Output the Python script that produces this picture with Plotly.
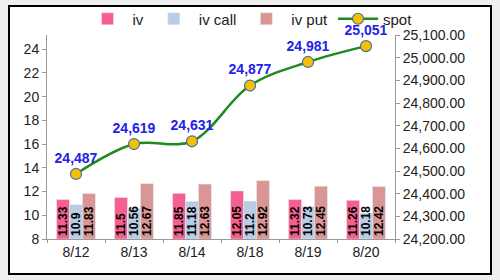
import plotly.graph_objects as go

dates = ["8/12", "8/13", "8/14", "8/18", "8/19", "8/20"]
iv = [11.33, 11.5, 11.85, 12.05, 11.32, 11.26]
iv_call = [10.9, 10.56, 11.18, 11.2, 10.73, 10.18]
iv_put = [11.83, 12.67, 12.63, 12.92, 12.45, 12.42]
spot = [24487, 24619, 24631, 24877, 24981, 25051]

FONT = "Liberation Sans, Arial, sans-serif"
Y_MIN = 8

fig = go.Figure()

def bar(name, vals, color):
    tf = dict(family=FONT, size=12, color="black", weight="bold")
    return go.Bar(
        x=dates, y=[v - Y_MIN for v in vals], base=Y_MIN, name=name, marker_color=color,
        text=[f"{v:g}" for v in vals], textposition="inside",
        insidetextanchor="start", textangle=-90, constraintext="none",
        textfont=tf, insidetextfont=tf,
        cliponaxis=False, yaxis="y",
    )

fig.add_trace(bar("iv", iv, "#f6608f"))
fig.add_trace(bar("iv call", iv_call, "#b9cde5"))
fig.add_trace(bar("iv put", iv_put, "#d99694"))

fig.add_trace(go.Scatter(
    x=dates, y=spot, name="spot", yaxis="y2", mode="lines+markers+text",
    line=dict(color="#1f8a1f", width=2.5, shape="spline"),
    marker=dict(size=11, color="#f5c000", line=dict(color="#4a6fa5", width=1.2)),
    text=[f"{v:,}" for v in spot], textposition="top center",
    textfont=dict(family=FONT, size=14, color="#2323e6", weight="bold"),
    cliponaxis=False,
))

W0, W1 = 47, 395
H0, H1 = 35, 239
def px_x(x):
    return (x - W0) / (W1 - W0)
def px_y(y):
    return (H1 - y) / (H1 - H0)

fig.update_layout(
    width=500, height=280,
    margin=dict(l=W0, r=500 - W1, t=H0, b=280 - H1, autoexpand=False),
    paper_bgcolor="#efefef", plot_bgcolor="rgba(0,0,0,0)",
    barmode="group", bargap=0.33, bargroupgap=0,
    font=dict(family=FONT, size=13, color="#222222"),
    showlegend=True,
    legend=dict(orientation="h", x=px_x(250), xanchor="center", y=px_y(19), yanchor="middle",
                font=dict(size=15, color="#222222"), bgcolor="rgba(0,0,0,0)",
                itemwidth=40, tracegroupgap=0),
    xaxis=dict(type="category", showgrid=False, showline=True, linecolor="#999999",
               ticks="outside", tickson="boundaries", ticklen=3, tickcolor="#999999",
               tickfont=dict(size=14, color="#222222")),
    yaxis=dict(range=[Y_MIN, 25.2], tickvals=[8, 10, 12, 14, 16, 18, 20, 22, 24],
               showgrid=False, showline=True, linecolor="#999999", ticks="outside",
               ticklen=4, tickcolor="#999999", zeroline=False,
               tickfont=dict(size=14, color="#222222")),
    yaxis2=dict(range=[24200, 25100], dtick=100, tickformat=",.2f", overlaying="y",
                side="right", showgrid=False, showline=True, linecolor="#999999",
                ticks="outside", ticklen=4, tickcolor="#999999", zeroline=False,
                tickfont=dict(size=14, color="#222222")),
    shapes=[dict(type="rect", xref="paper", yref="paper", layer="below",
                 x0=px_x(9), x1=px_x(491), y0=px_y(274), y1=px_y(6),
                 fillcolor="white", line=dict(color="black", width=2))],
)

fig.write_html("out.html")
